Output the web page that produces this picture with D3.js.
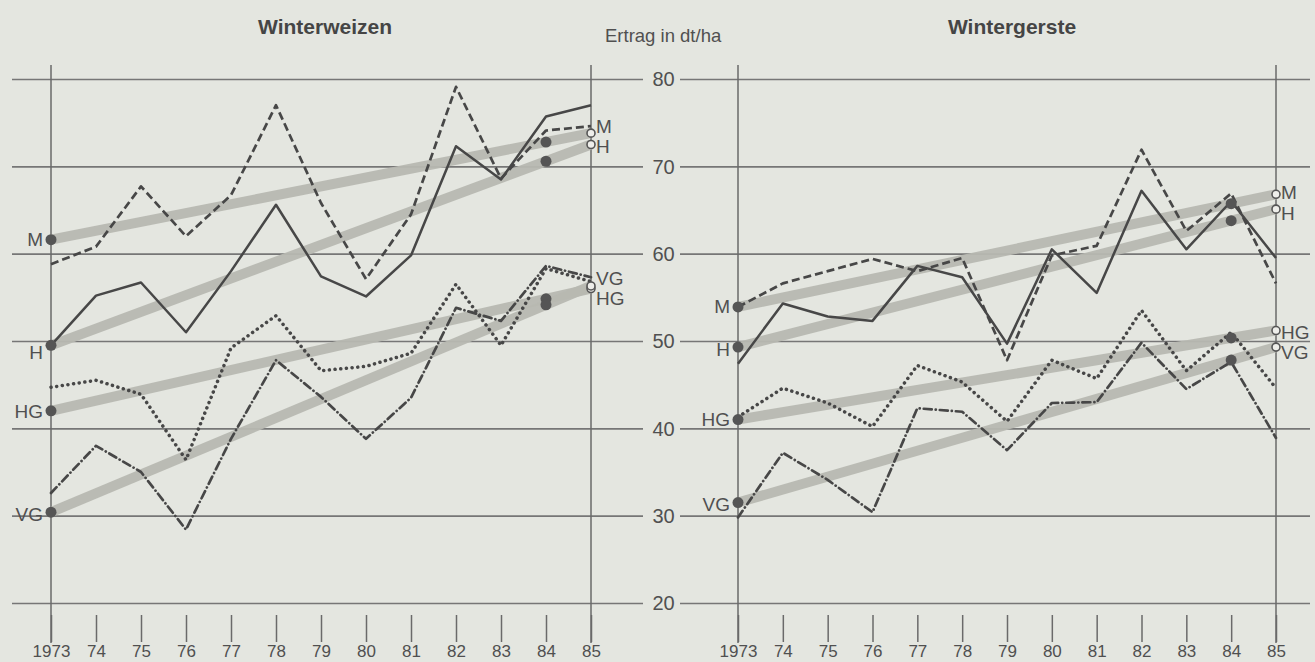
<!DOCTYPE html>
<html><head><meta charset="utf-8">
<script src="https://cdn.jsdelivr.net/npm/d3@7"></script>
<style>
html,body{margin:0;padding:0;background:#e4e6e0;}
svg{display:block;font-family:"Liberation Sans",Arial,sans-serif;}
</style></head>
<body><svg id="c" width="1315" height="662"></svg>
<script>
// ---------- data ----------
const years = [1973,1974,1975,1976,1977,1978,1979,1980,1981,1982,1983,1984,1985];
const yearLabels = ["1973","74","75","76","77","78","79","80","81","82","83","84","85"];
const yTicks = [20,30,40,50,60,70,80];
const seriesNames = ["M","H","HG","VG"];

// Winterweizen (dt/ha)
const wwM  = [58.8,60.8,67.7,62.0,66.7,77.0,65.8,57.1,64.5,79.1,68.6,74.1,74.6];
const wwH  = [49.5,55.2,56.7,51.0,58.0,65.6,57.4,55.1,59.8,72.3,68.5,75.7,77.0];
const wwHG = [44.7,45.5,43.9,36.4,49.2,52.9,46.6,47.1,48.6,56.5,49.5,58.3,56.8];
const wwVG = [32.6,38.0,35.0,28.4,38.8,47.8,43.6,38.8,43.5,53.8,52.3,58.6,57.3];
const wwTrendStart = [61.6,49.5,42.0,30.4];
const wwTrendEnd   = [73.8,72.5,56.0,56.3];

// Wintergerste (dt/ha)
const wgM  = [53.9,56.6,58.0,59.4,58.0,59.5,47.8,59.8,60.9,71.9,62.6,66.9,56.6];
const wgH  = [47.4,54.3,52.8,52.3,58.6,57.3,49.7,60.5,55.5,67.2,60.5,66.0,59.5];
const wgHG = [41.3,44.6,42.9,40.2,47.2,45.3,40.8,47.8,45.7,53.5,46.6,51.0,44.6];
const wgVG = [29.8,37.2,34.1,30.4,42.3,41.9,37.5,42.9,43.0,49.8,44.5,47.6,38.9];
const wgTrendStart = [53.9,49.3,41.0,31.5];
const wgTrendEnd   = [66.8,65.1,51.2,49.3];

// ---------- drawing ----------
const svg = d3.select("#c");
const ink = "#474747";
const textCol = "#505050";
svg.append("rect").attr("width",1315).attr("height",662).attr("fill","#e4e6e0");

const y = d3.scaleLinear().domain([20,80]).range([603,79]);

const styles = {
  M:  {dash:"8,4", cap:"butt", w:2.7},
  H:  {dash:null, cap:"butt", w:2.5},
  HG: {dash:"0.1,5.6", cap:"round", w:3.5},
  VG: {dash:"8,4,0.1,4", cap:"round", w:2.7}
};

function panel(opt){
  const x = d3.scaleLinear().domain([1973,1985]).range(opt.xr);
  const g = svg.append("g");
  const grid = g.append("g").attr("transform",`translate(${opt.gx[0]},0)`)
    .call(d3.axisLeft(y).tickValues(yTicks).tickSize(-(opt.gx[1]-opt.gx[0])).tickFormat(""));
  grid.select(".domain").remove();
  grid.selectAll("line").attr("stroke","#767676").attr("stroke-width",1.6);

  const xa = g.append("g").attr("transform","translate(0,615)")
    .call(d3.axisBottom(x).tickValues(years).tickSize(27).tickPadding(3)
      .tickFormat((d,i)=>yearLabels[i]));
  xa.select(".domain").remove();
  xa.selectAll("line").attr("stroke","#6a6a6a").attr("stroke-width",1.5);
  xa.selectAll("text").attr("fill",textCol).attr("font-size",17)
    .attr("font-family","'Liberation Sans',Arial,sans-serif");
  g.selectAll(".vl").data([1973,1985]).enter().append("line")
    .attr("x1",d=>x(d)).attr("x2",d=>x(d)).attr("y1",65).attr("y2",643)
    .attr("stroke","#6a6a6a").attr("stroke-width",1.5);

  seriesNames.forEach((s,i)=>{
    g.append("line")
      .attr("x1",x(1973)).attr("y1",y(opt.ts[i]))
      .attr("x2",x(1985)).attr("y2",y(opt.te[i]))
      .attr("stroke","#b7b8b1").attr("stroke-width",10).attr("stroke-opacity",0.95);
  });

  const line = d3.line().x((d,i)=>x(years[i])).y(d=>y(d));
  seriesNames.forEach((s,i)=>{
    const st = styles[s];
    const p = g.append("path").attr("d",line(opt.data[i]))
      .attr("fill","none").attr("stroke",ink).attr("stroke-width",st.w)
      .attr("stroke-linecap",st.cap).attr("stroke-linejoin","round");
    if(st.dash) p.attr("stroke-dasharray",st.dash);
  });

  seriesNames.forEach((s,i)=>{
    const v84 = opt.ts[i] + (opt.te[i]-opt.ts[i])*11/12;
    g.append("circle").attr("cx",x(1973)).attr("cy",y(opt.ts[i])).attr("r",5.5).attr("fill","#555");
    g.append("circle").attr("cx",x(1984)).attr("cy",y(v84)).attr("r",5.5).attr("fill","#555");
    g.append("circle").attr("cx",x(1985)).attr("cy",y(opt.te[i])).attr("r",4)
      .attr("fill","#eeeeea").attr("stroke","#555").attr("stroke-width",1.6);
  });

  seriesNames.forEach((s,i)=>{
    g.append("text").attr("x",x(1973)-8).attr("y",opt.startLab[i]).attr("dy","0.35em")
      .attr("text-anchor","end").attr("font-size",19).attr("fill",textCol).text(s);
    g.append("text").attr("x",x(1985)+5).attr("y",opt.endLab[i]).attr("dy","0.35em")
      .attr("text-anchor","start").attr("font-size",19).attr("fill",textCol).text(s);
  });

  svg.append("text").attr("x",opt.titleX).attr("y",34).attr("text-anchor","middle")
    .attr("font-size",21).attr("font-weight","bold").attr("fill","#454545").text(opt.title);
}

panel({
  title:"Winterweizen", titleX:325,
  xr:[51,591], gx:[12,643],
  data:[wwM,wwH,wwHG,wwVG], ts:wwTrendStart, te:wwTrendEnd,
  startLab:[239,352,411,514], endLab:[126,146,298,278]
});
panel({
  title:"Wintergerste", titleX:1012,
  xr:[738,1276], gx:[680,1310],
  data:[wgM,wgH,wgHG,wgVG], ts:wgTrendStart, te:wgTrendEnd,
  startLab:[306,349,419,504], endLab:[192,213,332,352]
});

svg.selectAll(".yl").data(yTicks).enter().append("text")
  .attr("x",663.5).attr("y",d=>y(d)).attr("dy","0.36em").attr("text-anchor","middle")
  .attr("font-size",20).attr("fill",textCol).text(d=>d);

svg.append("text").attr("x",605).attr("y",42).attr("font-size",18.5).attr("fill",textCol)
  .text("Ertrag in dt/ha");
</script>
</body></html>
